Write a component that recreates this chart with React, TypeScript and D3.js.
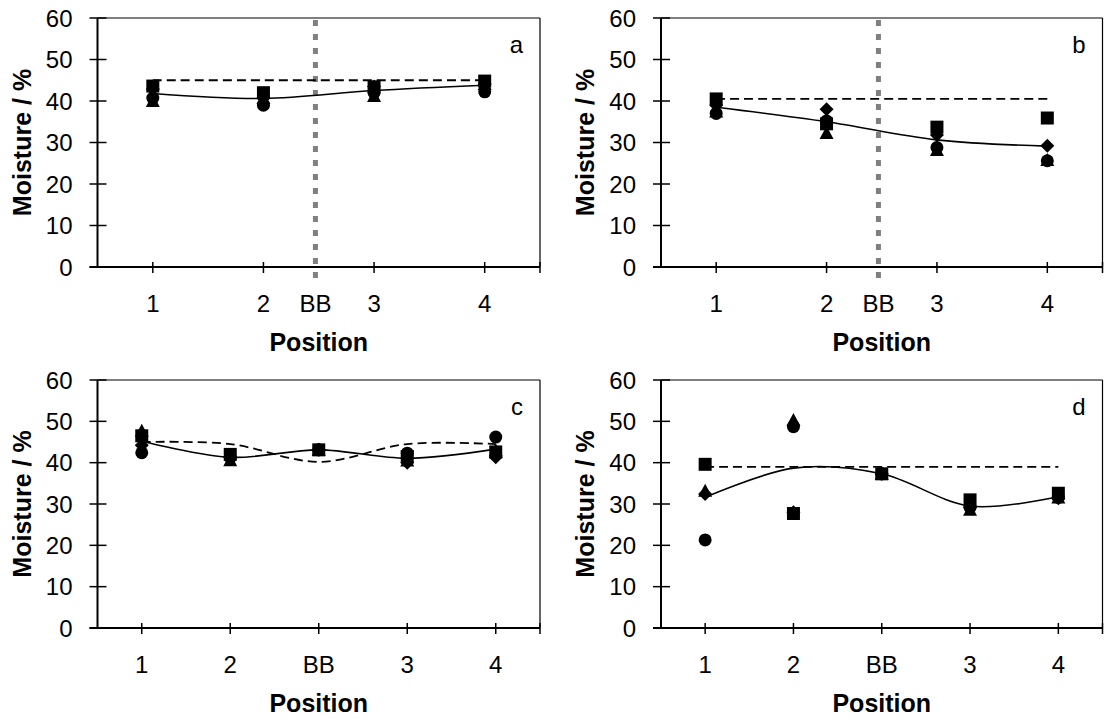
import React from 'react';
import * as d3 from 'd3';

// ---------- data ----------
const yTicks = [0, 10, 20, 30, 40, 50, 60];
const topCategories = ['1', '2', '3', '4'];
const topPositions = [1, 2, 3, 4];
const bbLabel = 'BB';
const bbPosition = 2.47;
const bottomCategories = ['1', '2', 'BB', '3', '4'];
const bottomPositions = [1, 2, 3, 4, 5];

const aDiamond = [42.9, 40.7, 43.5, 44.1];
const aSquare = [43.6, 42.0, 43.4, 44.8];
const aTriangle = [40.0, 40.7, 41.2, 44.1];
const aCircle = [40.7, 39.0, 42.0, 42.2];
const aDashed = [45, 45, 45, 45];

const bDiamond = [39.0, 38.0, 31.8, 29.2];
const bSquare = [40.5, 34.5, 33.7, 35.9];
const bTriangle = [37.5, 32.3, 28.2, 25.8];
const bCircle = [37.0, 35.2, 28.8, 25.6];
const bDashed = [40.5, 40.5, 40.5, 40.5];

const cDiamond = [44.2, 41.3, 43.1, 40.0, 41.3];
const cSquare = [46.5, 42.0, 43.1, 41.5, 42.6];
const cTriangle = [47.7, 40.6, 43.1, 40.5, 43.0];
const cCircle = [42.4, 41.3, 43.1, 42.3, 46.2];
const cDashed = [45.0, 44.5, 40.2, 44.5, 44.5];

const dDiamond = [32.4, 28.0, 37.3, 29.2, 31.4];
const dSquare = [39.6, 27.7, 37.3, 31.0, 32.6];
const dTriangle = [33.2, 50.3, 37.3, 28.6, 31.6];
const dCircle = [21.3, 48.7, 37.3, 29.2, 31.6];
const dDashed = [39, 39, 39, 39, 39];

// ---------- layout ----------
const FONT = 'Liberation Sans, Arial, Helvetica, sans-serif';
const TICK_FS = 24;
const TITLE_FS = 25;

type PanelDef = {
  letter: string;
  left: number; right: number; top: number; bottom: number;
  positions: number[];
  categories: string[];
  xDomain: [number, number];
  bb: boolean;
  diamond: number[]; square: number[]; triangle: number[]; circle: number[];
  dashed: number[];
};

const panels: PanelDef[] = [
  { letter: 'a', left: 97.5, right: 540, top: 18, bottom: 267, positions: topPositions, categories: topCategories, xDomain: [0.5, 4.5], bb: true,
    diamond: aDiamond, square: aSquare, triangle: aTriangle, circle: aCircle, dashed: aDashed },
  { letter: 'b', left: 661, right: 1102.5, top: 18, bottom: 267, positions: topPositions, categories: topCategories, xDomain: [0.5, 4.5], bb: true,
    diamond: bDiamond, square: bSquare, triangle: bTriangle, circle: bCircle, dashed: bDashed },
  { letter: 'c', left: 97.5, right: 540, top: 380, bottom: 628, positions: bottomPositions, categories: bottomCategories, xDomain: [0.5, 5.5], bb: false,
    diamond: cDiamond, square: cSquare, triangle: cTriangle, circle: cCircle, dashed: cDashed },
  { letter: 'd', left: 661, right: 1102.5, top: 380, bottom: 628, positions: bottomPositions, categories: bottomCategories, xDomain: [0.5, 5.5], bb: false,
    diamond: dDiamond, square: dSquare, triangle: dTriangle, circle: dCircle, dashed: dDashed },
];

const diamondPath = (cx: number, cy: number, r = 7) => `M${cx},${cy - r}L${cx + r},${cy}L${cx},${cy + r}L${cx - r},${cy}Z`;
const trianglePath = (cx: number, cy: number) => `M${cx},${cy - 7}L${cx + 7},${cy + 6}L${cx - 7},${cy + 6}Z`;
const squarePath = (cx: number, cy: number, h = 6.5) => `M${cx - h},${cy - h}H${cx + h}V${cy + h}H${cx - h}Z`;

function Panel({ p }: { p: PanelDef }) {
  const x = d3.scaleLinear().domain(p.xDomain).range([p.left, p.right]);
  const y = d3.scaleLinear().domain([0, 60]).range([p.bottom, p.top]);
  const means = p.positions.map((_, i) => d3.mean([p.diamond[i], p.square[i], p.triangle[i], p.circle[i]]) as number);
  const line = d3.line<number>()
    .x((_, i) => x(p.positions[i]))
    .y((d) => y(d))
    .curve(d3.curveCatmullRom.alpha(0));
  const midY = (p.top + p.bottom) / 2;
  const midX = (p.left + p.right) / 2;
  return (
    <g>
      <line x1={p.left} y1={p.top} x2={p.right} y2={p.top} stroke="#000" strokeWidth={1.2} />
      <line x1={p.right} y1={p.top} x2={p.right} y2={p.bottom} stroke="#000" strokeWidth={1.2} />
      {p.bb && (
        <line x1={x(bbPosition)} x2={x(bbPosition)} y1={p.top + 2} y2={p.bottom + 13}
          stroke="#808080" strokeWidth={5} strokeDasharray="6,8" />
      )}
      <line x1={p.left} y1={p.top} x2={p.left} y2={p.bottom} stroke="#000" strokeWidth={2} />
      {yTicks.map((t) => (
        <g key={t}>
          <line x1={p.left - 8} x2={p.left + 9} y1={y(t)} y2={y(t)} stroke="#000" strokeWidth={1.5} />
          <text x={p.left - 25} y={y(t)} dy="0.36em" textAnchor="end" fontSize={TICK_FS} fontFamily={FONT}>{t}</text>
        </g>
      ))}
      <line x1={p.left - 8} y1={p.bottom} x2={p.right} y2={p.bottom} stroke="#000" strokeWidth={2} />
      {p.positions.map((pos, i) => (
        <g key={i}>
          <line x1={x(pos)} x2={x(pos)} y1={p.bottom - 5} y2={p.bottom + 6} stroke="#000" strokeWidth={1.5} />
          <text x={x(pos)} y={p.bottom + 45} textAnchor="middle" fontSize={TICK_FS} fontFamily={FONT}>{p.categories[i]}</text>
        </g>
      ))}
      <line x1={p.right} x2={p.right} y1={p.bottom - 5} y2={p.bottom + 6} stroke="#000" strokeWidth={1.5} />
      {p.bb && (
        <text x={x(bbPosition)} y={p.bottom + 45} textAnchor="middle" fontSize={TICK_FS} fontFamily={FONT}>{bbLabel}</text>
      )}
      <text x={midX} y={p.bottom + 84} textAnchor="middle" fontSize={TITLE_FS} fontWeight="bold" fontFamily={FONT}>Position</text>
      <text transform={`translate(${p.left - 76},${midY}) rotate(-90)`} dy="0.36em" textAnchor="middle"
        fontSize={TITLE_FS} fontWeight="bold" fontFamily={FONT}>Moisture / %</text>
      <text x={p.right - 17} y={p.top + 35} textAnchor="end" fontSize={TICK_FS} fontFamily={FONT}>{p.letter}</text>
      <path d={line(p.dashed) || ''} fill="none" stroke="#000" strokeWidth={1.8} strokeDasharray="9,5" />
      <path d={line(means) || ''} fill="none" stroke="#000" strokeWidth={1.6} />
      {p.positions.map((pos, i) => <path key={'d' + i} d={diamondPath(x(pos), y(p.diamond[i]))} fill="#000" />)}
      {p.positions.map((pos, i) => <path key={'t' + i} d={trianglePath(x(pos), y(p.triangle[i]))} fill="#000" />)}
      {p.positions.map((pos, i) => <circle key={'c' + i} cx={x(pos)} cy={y(p.circle[i])} r={6.5} fill="#000" />)}
      {p.positions.map((pos, i) => <path key={'s' + i} d={squarePath(x(pos), y(p.square[i]))} fill="#000" />)}
    </g>
  );
}

export default function App() {
  return (
    <svg width={1105} height={722} style={{ position: 'absolute', left: 0, top: 0, background: '#fff' }}>
      <rect x={0} y={0} width={1105} height={722} fill="#fff" />
      {panels.map((p) => <Panel key={p.letter} p={p} />)}
    </svg>
  );
}
